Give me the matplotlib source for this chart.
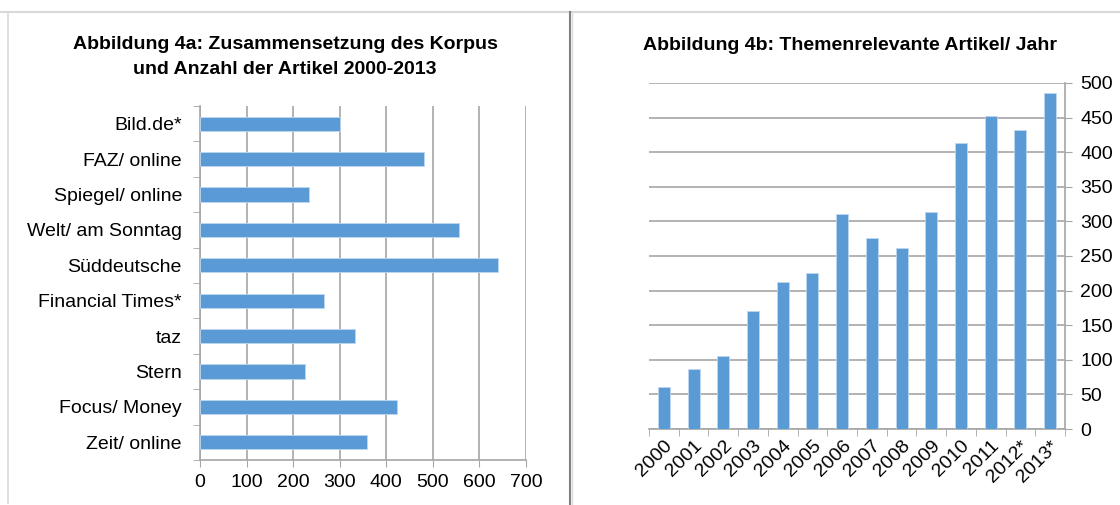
import matplotlib.pyplot as plt
from matplotlib.lines import Line2D

plt.rcParams['font.family'] = ['Liberation Sans', 'DejaVu Sans']

# data: Abbildung 4a
papers = ['Bild.de*', 'FAZ/ online', 'Spiegel/ online', 'Welt/ am Sonntag', 'Süddeutsche',
          'Financial Times*', 'taz', 'Stern', 'Focus/ Money', 'Zeit/ online']
articles = [301, 480, 235, 557, 639, 266, 332, 225, 423, 359]

# data: Abbildung 4b
years = ['2000', '2001', '2002', '2003', '2004', '2005', '2006', '2007',
         '2008', '2009', '2010', '2011', '2012*', '2013*']
per_year = [61, 87, 106, 171, 212, 225, 310, 276, 262, 313, 414, 452, 432, 485]

blue = '#5B9BD5'
grid = '#A6A6A6'
fs = 14

fig = plt.figure(figsize=(11.2, 5.05), dpi=100)
W, H = 1120, 505

# frame lines like the original screenshot
fig.add_artist(Line2D([0, 1], [1 - 12 / H, 1 - 12 / H], color='#D9D9D9', lw=1.5))
fig.add_artist(Line2D([8 / W, 8 / W], [1 - 12 / H, 2 / H], color='#D9D9D9', lw=1.2))
fig.add_artist(Line2D([570 / W, 570 / W], [1 - 12 / H, 0], color='#7F7F7F', lw=1.5))
fig.add_artist(Line2D([572 / W, 572 / W], [1 - 12 / H, 0], color='#D9D9D9', lw=1.0))

# left chart
ax1 = fig.add_axes([200 / W, 1 - 460 / H, 326 / W, 354 / H])
ypos = list(range(len(papers)))
ax1.barh(ypos, articles, height=0.4, color=blue, edgecolor='#BDD7EE', linewidth=0.6, zorder=3)
ax1.set_ylim(len(papers) - 0.5, -0.5)
ax1.set_xlim(0, 700)
ax1.set_xticks(range(0, 701, 100))
ax1.set_yticks(ypos)
ax1.set_yticklabels(papers, fontsize=fs)
ax1.set_yticks([i - 0.5 for i in range(len(papers) + 1)], minor=True)
ax1.tick_params(axis='y', which='major', length=0, pad=13)
ax1.tick_params(axis='y', which='minor', length=5, color=grid)
ax1.tick_params(axis='x', length=5, color=grid, labelsize=fs, pad=5)
ax1.grid(axis='x', color=grid, lw=1.2, zorder=0)
for s in ['top', 'right']:
    ax1.spines[s].set_visible(False)
for s in ['left', 'bottom']:
    ax1.spines[s].set_color(grid)
    ax1.spines[s].set_linewidth(1.2)
fig.text(285 / W, 1 - 57 / H, 'Abbildung 4a: Zusammensetzung des Korpus\nund Anzahl der Artikel 2000-2013',
         ha='center', va='center', fontsize=14, fontweight='bold', linespacing=1.55)

# right chart
ax2 = fig.add_axes([649 / W, 1 - 429 / H, 416 / W, 346 / H])
xpos = list(range(len(years)))
ax2.bar(xpos, per_year, width=0.4, color=blue, edgecolor='#BDD7EE', linewidth=0.6, zorder=3)
ax2.set_xlim(-0.5, len(years) - 0.5)
ax2.set_ylim(0, 500)
ax2.set_yticks(range(0, 501, 50))
ax2.yaxis.tick_right()
ax2.set_xticks(xpos)
ax2.set_xticklabels(years, rotation=45, ha='right', rotation_mode='anchor', fontsize=fs)
ax2.set_xticks([i - 0.5 for i in range(len(years) + 1)], minor=True)
ax2.tick_params(axis='x', which='major', length=0, pad=6)
ax2.tick_params(axis='x', which='minor', length=5, color=grid)
ax2.tick_params(axis='y', length=5, color=grid, labelsize=fs, pad=6)
ax2.grid(axis='y', color=grid, lw=1.2, zorder=0)
for s in ['top', 'left']:
    ax2.spines[s].set_visible(False)
for s in ['right', 'bottom']:
    ax2.spines[s].set_color(grid)
    ax2.spines[s].set_linewidth(1.2)
fig.text(850 / W, 1 - 45 / H, 'Abbildung 4b: Themenrelevante Artikel/ Jahr',
         ha='center', va='center', fontsize=14, fontweight='bold')

fig.savefig('out.png', dpi=100)
